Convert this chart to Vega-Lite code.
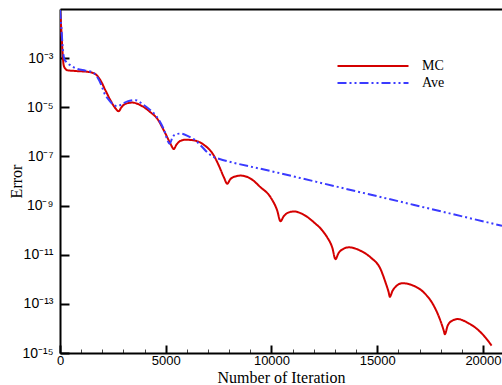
{
  "$schema": "https://vega.github.io/schema/vega-lite/v6.json",
  "width": 442,
  "height": 344,
  "autosize": "none",
  "padding": {"left": 60, "top": 9, "right": 0, "bottom": 32},
  "background": "white",
  "config": {"view": {"stroke": null}},
  "datasets": {
    "curves": [
      {"iter": 0, "error": 0.09, "series": "MC"},
      {"iter": 66, "error": 1.26e-2, "series": "MC"},
      {"iter": 114, "error": 2.1e-3, "series": "MC"},
      {"iter": 175, "error": 5.1e-4, "series": "MC"},
      {"iter": 255, "error": 3.7e-4, "series": "MC"},
      {"iter": 350, "error": 3.2e-4, "series": "MC"},
      {"iter": 728, "error": 3.0e-4, "series": "MC"},
      {"iter": 1343, "error": 2.75e-4, "series": "MC"},
      {"iter": 1675, "error": 2.24e-4, "series": "MC"},
      {"iter": 1911, "error": 1.26e-4, "series": "MC"},
      {"iter": 2148, "error": 4.9e-5, "series": "MC"},
      {"iter": 2384, "error": 1.95e-5, "series": "MC"},
      {"iter": 2621, "error": 9.1e-6, "series": "MC"},
      {"iter": 2777, "error": 6.9e-6, "series": "MC"},
      {"iter": 2904, "error": 1.0e-5, "series": "MC"},
      {"iter": 3093, "error": 1.38e-5, "series": "MC"},
      {"iter": 3411, "error": 1.55e-5, "series": "MC"},
      {"iter": 3898, "error": 1.1e-5, "series": "MC"},
      {"iter": 4276, "error": 6.3e-6, "series": "MC"},
      {"iter": 4593, "error": 3.47e-6, "series": "MC"},
      {"iter": 4986, "error": 8.5e-7, "series": "MC"},
      {"iter": 5223, "error": 3.3e-7, "series": "MC"},
      {"iter": 5378, "error": 2.0e-7, "series": "MC"},
      {"iter": 5506, "error": 3.0e-7, "series": "MC"},
      {"iter": 5695, "error": 4.3e-7, "series": "MC"},
      {"iter": 5932, "error": 4.8e-7, "series": "MC"},
      {"iter": 6325, "error": 4.5e-7, "series": "MC"},
      {"iter": 6798, "error": 3.0e-7, "series": "MC"},
      {"iter": 7271, "error": 1.1e-7, "series": "MC"},
      {"iter": 7507, "error": 4.3e-8, "series": "MC"},
      {"iter": 7744, "error": 1.45e-8, "series": "MC"},
      {"iter": 7905, "error": 7.8e-9, "series": "MC"},
      {"iter": 8061, "error": 1.2e-8, "series": "MC"},
      {"iter": 8250, "error": 1.5e-8, "series": "MC"},
      {"iter": 8534, "error": 1.66e-8, "series": "MC"},
      {"iter": 9007, "error": 1.26e-8, "series": "MC"},
      {"iter": 9480, "error": 5.6e-9, "series": "MC"},
      {"iter": 9953, "error": 2.2e-9, "series": "MC"},
      {"iter": 10270, "error": 6.3e-10, "series": "MC"},
      {"iter": 10426, "error": 2.3e-10, "series": "MC"},
      {"iter": 10582, "error": 3.7e-10, "series": "MC"},
      {"iter": 10757, "error": 5.0e-10, "series": "MC"},
      {"iter": 11055, "error": 5.75e-10, "series": "MC"},
      {"iter": 11514, "error": 4.3e-10, "series": "MC"},
      {"iter": 12001, "error": 2.1e-10, "series": "MC"},
      {"iter": 12412, "error": 9.5e-11, "series": "MC"},
      {"iter": 12635, "error": 5.1e-11, "series": "MC"},
      {"iter": 12871, "error": 2.0e-11, "series": "MC"},
      {"iter": 13027, "error": 6.6e-12, "series": "MC"},
      {"iter": 13169, "error": 1.15e-11, "series": "MC"},
      {"iter": 13358, "error": 1.66e-11, "series": "MC"},
      {"iter": 13657, "error": 2.0e-11, "series": "MC"},
      {"iter": 14210, "error": 1.45e-11, "series": "MC"},
      {"iter": 14683, "error": 7.8e-12, "series": "MC"},
      {"iter": 15156, "error": 2.6e-12, "series": "MC"},
      {"iter": 15393, "error": 7.4e-13, "series": "MC"},
      {"iter": 15535, "error": 3.1e-13, "series": "MC"},
      {"iter": 15596, "error": 1.95e-13, "series": "MC"},
      {"iter": 15724, "error": 3.4e-13, "series": "MC"},
      {"iter": 15913, "error": 5.4e-13, "series": "MC"},
      {"iter": 16183, "error": 6.9e-13, "series": "MC"},
      {"iter": 16732, "error": 5.4e-13, "series": "MC"},
      {"iter": 17205, "error": 2.9e-13, "series": "MC"},
      {"iter": 17678, "error": 8.3e-14, "series": "MC"},
      {"iter": 17995, "error": 2.0e-14, "series": "MC"},
      {"iter": 18151, "error": 7.9e-15, "series": "MC"},
      {"iter": 18198, "error": 5.8e-15, "series": "MC"},
      {"iter": 18325, "error": 1.26e-14, "series": "MC"},
      {"iter": 18515, "error": 2.0e-14, "series": "MC"},
      {"iter": 18813, "error": 2.4e-14, "series": "MC"},
      {"iter": 19257, "error": 1.74e-14, "series": "MC"},
      {"iter": 19730, "error": 9.3e-15, "series": "MC"},
      {"iter": 20123, "error": 4.2e-15, "series": "MC"},
      {"iter": 20407, "error": 2.0e-15, "series": "MC"},
      {"iter": 0, "error": 0.09, "series": "Ave"},
      {"iter": 66, "error": 1.66e-2, "series": "Ave"},
      {"iter": 137, "error": 2.1e-3, "series": "Ave"},
      {"iter": 208, "error": 9.1e-4, "series": "Ave"},
      {"iter": 303, "error": 6.9e-4, "series": "Ave"},
      {"iter": 492, "error": 5.1e-4, "series": "Ave"},
      {"iter": 728, "error": 3.9e-4, "series": "Ave"},
      {"iter": 1202, "error": 3.1e-4, "series": "Ave"},
      {"iter": 1533, "error": 2.7e-4, "series": "Ave"},
      {"iter": 1769, "error": 1.66e-4, "series": "Ave"},
      {"iter": 1958, "error": 7.9e-5, "series": "Ave"},
      {"iter": 2100, "error": 3.7e-5, "series": "Ave"},
      {"iter": 2290, "error": 2.1e-5, "series": "Ave"},
      {"iter": 2479, "error": 1.38e-5, "series": "Ave"},
      {"iter": 2701, "error": 1.1e-5, "series": "Ave"},
      {"iter": 2904, "error": 1.3e-5, "series": "Ave"},
      {"iter": 3188, "error": 1.74e-5, "series": "Ave"},
      {"iter": 3567, "error": 1.95e-5, "series": "Ave"},
      {"iter": 3945, "error": 1.26e-5, "series": "Ave"},
      {"iter": 4276, "error": 7.6e-6, "series": "Ave"},
      {"iter": 4560, "error": 4.3e-6, "series": "Ave"},
      {"iter": 4891, "error": 1.38e-6, "series": "Ave"},
      {"iter": 5189, "error": 3.3e-7, "series": "Ave"},
      {"iter": 5317, "error": 6.0e-7, "series": "Ave"},
      {"iter": 5459, "error": 7.9e-7, "series": "Ave"},
      {"iter": 5695, "error": 8.5e-7, "series": "Ave"},
      {"iter": 6074, "error": 6.6e-7, "series": "Ave"},
      {"iter": 6405, "error": 4.5e-7, "series": "Ave"},
      {"iter": 6689, "error": 2.6e-7, "series": "Ave"},
      {"iter": 6972, "error": 1.45e-7, "series": "Ave"},
      {"iter": 7256, "error": 9.5e-8, "series": "Ave"},
      {"iter": 7507, "error": 8.1e-8, "series": "Ave"},
      {"iter": 10000, "error": 2.5e-8, "series": "Ave"},
      {"iter": 15000, "error": 2.4e-9, "series": "Ave"},
      {"iter": 20900, "error": 1.5e-10, "series": "Ave"}
    ]
  },
  "data": {"name": "curves"},
  "encoding": {
    "y": {
      "field": "error",
      "type": "quantitative",
      "scale": {"type": "log", "domain": [1e-15, 0.1], "nice": false},
      "axis": {
        "title": "Error",
        "titleFont": "Liberation Serif",
        "titleFontSize": 16,
        "titleFontWeight": "normal",
        "titleColor": "black",
        "titlePadding": -3,
        "values": [1e-3, 1e-5, 1e-7, 1e-9, 1e-11, 1e-13, 1e-15],
        "labelExpr": "datum.value < 1e-14 ? '10⁻¹⁵' : datum.value < 1e-12 ? '10⁻¹³' : datum.value < 1e-10 ? '10⁻¹¹' : datum.value < 1e-8 ? '10⁻⁹' : datum.value < 1e-6 ? '10⁻⁷' : datum.value < 1e-4 ? '10⁻⁵' : '10⁻³'",
        "labelFont": "Liberation Sans",
        "labelFontSize": 14,
        "labelColor": "black",
        "labelFlush": false,
        "labelPadding": 16,
        "tickSize": -9,
        "tickWidth": 2,
        "tickColor": "black",
        "domainColor": "black",
        "domainWidth": 2,
        "grid": false
      }
    },
    "color": {
      "field": "series",
      "type": "nominal",
      "scale": {"domain": ["MC", "Ave"], "range": ["#d40000", "#3a3aff"]},
      "legend": {
        "title": null,
        "orient": "none",
        "legendX": 306,
        "legendY": 50,
        "padding": 0,
        "symbolType": "M-7.1,0H7.1",
        "symbolSize": 100,
        "symbolStrokeWidth": 2,
        "labelFont": "Liberation Serif",
        "labelFontSize": 14,
        "labelColor": "black",
        "labelOffset": 42,
        "rowPadding": 3
      }
    },
    "strokeDash": {
      "field": "series",
      "type": "nominal",
      "scale": {"domain": ["MC", "Ave"], "range": [[1, 0], [9, 3, 2, 3, 2, 3]]},
      "legend": null
    }
  },
  "layer": [
    {
      "transform": [{"filter": "datum.series === 'MC'"}],
      "mark": {"type": "line", "interpolate": "monotone", "strokeWidth": 2, "clip": true},
      "encoding": {
        "x": {
          "field": "iter",
          "type": "quantitative",
          "scale": {"domain": [0, 20900], "nice": false},
          "axis": {
            "title": "Number of Iteration",
            "titleFont": "Liberation Serif",
            "titleFontSize": 16,
            "titleFontWeight": "normal",
            "titleColor": "black",
            "titlePadding": 2,
            "values": [0, 1000, 2000, 3000, 4000, 5000, 6000, 7000, 8000, 9000, 10000, 11000, 12000, 13000, 14000, 15000, 16000, 17000, 18000, 19000, 20000],
            "format": "d",
            "labelExpr": "datum.value % 5000 === 0 ? datum.label : ''",
            "labelFont": "Liberation Sans",
            "labelFontSize": 13,
            "labelColor": "black",
            "labelFlush": false,
            "labelPadding": 9,
            "tickSize": {"condition": {"test": "datum.value % 5000 === 0", "value": -8}, "value": -4},
            "tickWidth": {"condition": {"test": "datum.value % 5000 === 0", "value": 2}, "value": 1},
            "tickColor": {"condition": {"test": "datum.value % 5000 === 0", "value": "black"}, "value": "#444444"},
            "domainColor": "black",
            "domainWidth": 2,
            "grid": false
          }
        }
      }
    },
    {
      "transform": [{"filter": "datum.series === 'Ave'"}],
      "mark": {"type": "line", "interpolate": "monotone", "strokeWidth": 2, "clip": true},
      "encoding": {
        "x": {
          "field": "iter",
          "type": "quantitative",
          "scale": {"domain": [0, 20900], "nice": false},
          "axis": {
            "orient": "top",
            "title": null,
            "labels": false,
            "ticks": false,
            "grid": false,
            "domainColor": "black",
            "domainWidth": 2
          }
        }
      }
    }
  ],
  "resolve": {"scale": {"x": "shared"}, "axis": {"x": "independent"}}
}
